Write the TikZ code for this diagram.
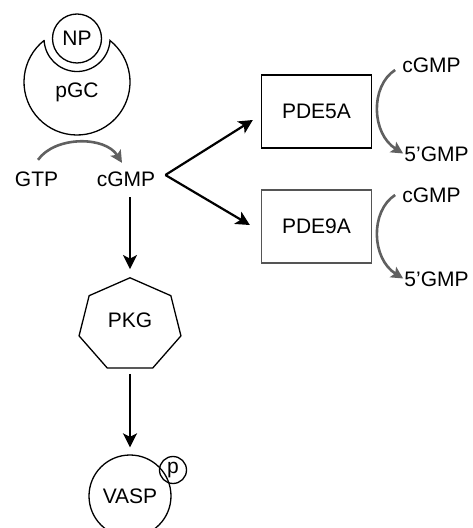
\documentclass[tikz,border=0pt]{standalone}
\usepackage{fontspec}
\setmainfont{Liberation Sans}
\usetikzlibrary{arrows.meta, positioning, shapes.geometric}
\definecolor{arcgrey}{HTML}{606060}
\definecolor{boxgrey}{HTML}{555555}
\tikzset{
  molecule/.style = {inner sep=1pt, font=\fontsize{21}{25}\selectfont},
  enzyme/.style = {molecule, draw, line width=1.3pt, minimum width=110pt, minimum height=73pt},
  ball/.style = {molecule, circle, draw, line width=1.3pt, inner sep=0},
  kinase/.style = {regular polygon, regular polygon sides=7, draw, line width=1.3pt,
                   minimum size=95pt, inner sep=0, xscale=1.1},
  signal/.style = {line width=2.2pt, -{Stealth[length=14pt, width=14pt, inset=3.5pt]}},
  turnover/.style = {line width=2.6pt, arcgrey, -{Stealth[length=12pt, width=12pt, inset=2.5pt]}},
}

\begin{document}
\begin{tikzpicture}[x=1pt, y=1pt]
        \useasboundingbox (0,0) rectangle (472,528);
        % receptor with its bound peptide
        \node (NP) [ball, minimum size=49pt] at (77,489.5) {NP};
        \coordinate (pGCcentre) at (77,446);
        \draw [line width=1.3pt] (pGCcentre) ++(128.5:53)
          arc[start angle=128.5, end angle=411.5, radius=53]
          arc[start angle=-3.5, end angle=-176.5, radius=33] -- cycle;
        \node (pGC) [molecule] at (77,436) {pGC};

        % GTP --> cGMP
        \node (GTP) [molecule] at (36.5,348.5) {GTP};
        \node (cGMP) [molecule] at (126,348.5) {cGMP};
        \draw [turnover] ([xshift=1.5pt, yshift=11pt]GTP.north)
          .. controls +(17,24) and +(-17,27) .. ([xshift=-4pt, yshift=8pt]cGMP.north);

        % cGMP --> PDE --> 5'GMP
        \coordinate (split) at ([xshift=9pt, yshift=4.5pt]cGMP.east);
        \foreach \X/\y/\c/\tx/\ty/\g/\f/\sy in {
          5A/416.5/black/-8/-8.5/463/373.5/-5,
          9A/301.5/boxgrey/-11/1.5/333/248.5/0%
        }{
          \node (PDE\X) [enzyme, draw=\c] at (316.5,\y) {PDE\X};
          \draw [signal] (split) -- ([xshift=\tx pt, yshift=\ty pt]PDE\X.west);

          \node (cgmp\X) [molecule] at (431.5,\g) {cGMP};
          \node (gmp\X) [molecule] at (436.5,\f) {5’GMP};
          \draw [turnover] ([xshift=-6pt, yshift=\sy pt]cgmp\X.west)
            .. controls +(-25,-16) and +(-32,20) .. ([yshift=1pt]gmp\X.west);
        }

        % cGMP --> PKG --> VASP
        \node (PKG) [kinase] at (130,202.7) {};
        \node (pkgText) [molecule] at ([yshift=5pt]PKG.center) {PKG};
        \coordinate (pkgIn) at (PKG.north |- cGMP.south);
        \draw [signal] ([yshift=-9pt]pkgIn) -- ([yshift=8pt]PKG.north);

        \node (VASP) [ball, minimum size=82pt] at (130,32) {VASP};
        \node (P) [ball, minimum size=27pt] at (173,58) {p};
        \draw [signal] ([yshift=-5pt]PKG.south) -- ([yshift=7pt]VASP.north);
      \end{tikzpicture}
\end{document}
